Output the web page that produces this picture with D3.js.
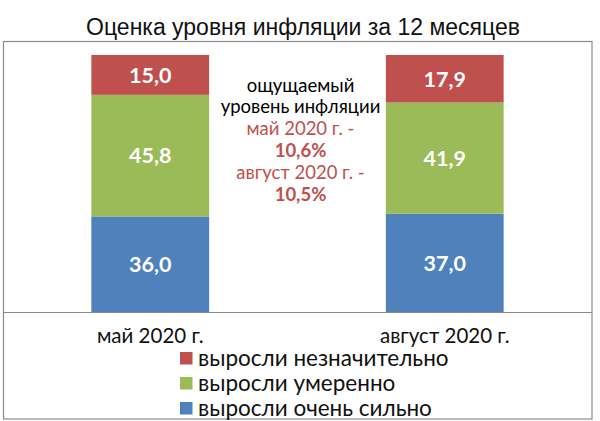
<!DOCTYPE html>
<html><head><meta charset="utf-8">
<script src="https://cdn.jsdelivr.net/npm/d3@7"></script>
<style>
html,body{margin:0;padding:0;background:#fff;}
svg{display:block;}
</style></head>
<body>
<svg id="c" width="600" height="421"></svg>
<script>
const title = "Оценка уровня инфляции за 12 месяцев";
const categories = ["май 2020 г.", "август 2020 г."];
const seriesNames = ["выросли очень сильно", "выросли умеренно", "выросли незначительно"];
const seriesColors = ["#4F81BD", "#9BBB59", "#C0504D"];
const strong = [36.0, 37.0];
const moderate = [45.8, 41.9];
const slight = [15.0, 17.9];
const noteText = ["ощущаемый", "уровень инфляции", "май 2020 г. -", "10,6%", "август 2020 г. -", "10,5%"];
const noteColor = ["#000", "#000", "#C0504D", "#C0504D", "#C0504D", "#C0504D"];
const noteBold = [false, false, false, true, false, true];

const fmt = v => v.toFixed(1).replace(".", ",");
const FONT = "Lato, 'Open Sans', sans-serif";

const svg = d3.select("#c");
const rows = categories.map((c, i) => ({cat: c, s0: strong[i], s1: moderate[i], s2: slight[i]}));
const keys = ["s0", "s1", "s2"];
const stack = d3.stack().keys(keys)(rows);

const x = d3.scaleBand().domain(categories).range([3, 592]).paddingInner(0.6).paddingOuter(0.3);
const maxTotal = d3.max(rows, r => r.s0 + r.s1 + r.s2);
const y = d3.scaleLinear().domain([0, maxTotal]).range([312, 55]);

// title
svg.append("text").attr("x", 303).attr("y", 35).attr("text-anchor", "middle")
  .attr("font-family", "'Liberation Sans', Arial, sans-serif").attr("font-size", 23)
  .attr("fill", "#111").text(title);

// frame
svg.append("rect").attr("x", 3.5).attr("y", 41.5).attr("width", 588.5).attr("height", 377.5)
  .attr("fill", "none").attr("stroke", "#8a8a8a").attr("stroke-width", 1.2);

// bars
const g = svg.append("g");
stack.forEach((layer, li) => {
  const lg = g.append("g").attr("fill", seriesColors[li]);
  lg.selectAll("rect").data(layer).join("rect")
    .attr("x", d => x(d.data.cat))
    .attr("width", x.bandwidth())
    .attr("y", d => y(d[1]))
    .attr("height", d => y(d[0]) - y(d[1]));
  g.append("g").selectAll("text").data(layer).join("text")
    .attr("x", d => x(d.data.cat) + x.bandwidth() / 2)
    .attr("y", d => (y(d[0]) + y(d[1])) / 2)
    .attr("dy", "0.36em")
    .attr("text-anchor", "middle")
    .attr("font-family", FONT).attr("font-weight", "bold").attr("font-size", 21.5)
    .attr("fill", "#fff")
    .text(d => fmt(d[1] - d[0]));
});

// baseline axis
const ax = svg.append("g").attr("transform", `translate(0,${y(0)})`)
  .call(d3.axisBottom(x).tickSize(0).tickPadding(16));
ax.select(".domain").attr("d", "M3.5,0.5H592").attr("stroke", "#8a8a8a").attr("stroke-width", 1.2);
ax.selectAll(".tick text").attr("font-family", FONT).attr("font-size", 20.5).attr("fill", "#111");

// center note
const nx = (x(categories[0]) + x.bandwidth() + x(categories[1])) / 2 + 3;
svg.append("g").selectAll("text").data(noteText).join("text")
  .attr("x", nx).attr("y", (d, i) => 85 + i * 21.8).attr("dy", "0.36em")
  .attr("text-anchor", "middle").attr("font-family", FONT).attr("font-size", 18.5)
  .attr("font-weight", (d, i) => noteBold[i] ? "bold" : "normal")
  .attr("fill", (d, i) => noteColor[i]).text(d => d);

// legend
const legendOrder = [2, 1, 0];
const lgd = svg.append("g").attr("transform", "translate(180,358)");
legendOrder.forEach((si, k) => {
  const row = lgd.append("g").attr("transform", `translate(0,${k * 25})`);
  row.append("rect").attr("x", 0).attr("y", -6).attr("width", 12.5).attr("height", 12.5).attr("fill", seriesColors[si]);
  row.append("text").attr("x", 18).attr("y", 0).attr("dy", "0.36em")
    .attr("font-family", FONT).attr("font-size", 22.5).attr("fill", "#111").text(seriesNames[si]);
});
</script>
</body></html>
